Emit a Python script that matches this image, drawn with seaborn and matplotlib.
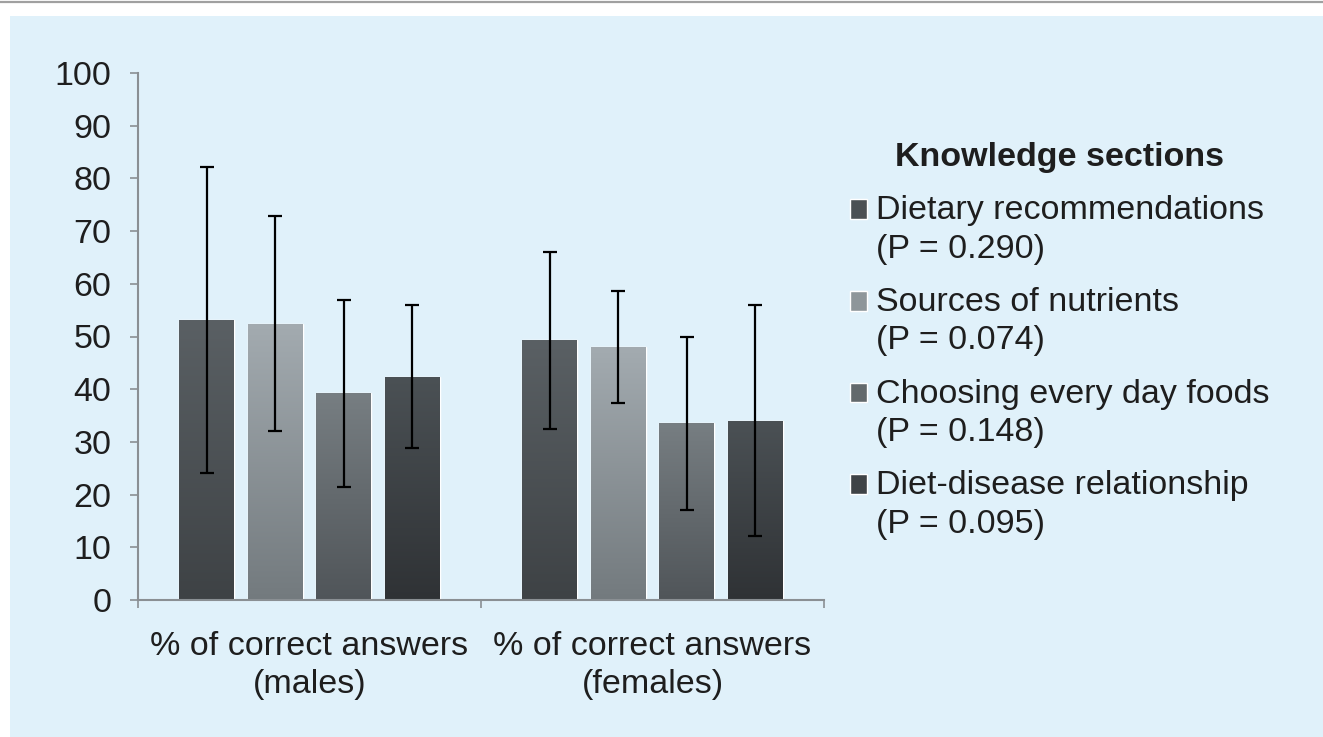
import numpy as np
import pandas as pd
import seaborn as sns
import matplotlib.pyplot as plt
from matplotlib.colors import LinearSegmentedColormap
from matplotlib.patches import Rectangle
from matplotlib.lines import Line2D

# Data
groups = ["% of correct answers\n(males)", "% of correct answers\n(females)"]
sections = ["Dietary recommendations\n(P = 0.290)",
            "Sources of nutrients\n(P = 0.074)",
            "Choosing every day foods\n(P = 0.148)",
            "Diet-disease relationship\n(P = 0.095)"]
means_males = [53.1, 52.4, 39.2, 42.4]
sd_males = [29.0, 20.4, 17.8, 13.6]
means_females = [49.3, 48.0, 33.5, 34.0]
sd_females = [16.8, 10.7, 16.5, 21.9]
yticks = [0, 10, 20, 30, 40, 50, 60, 70, 80, 90, 100]

# Bar colours (mid, top and bottom of gradient)
mid_colors = ["#4b5053", "#8e969a", "#63696c", "#3f4346"]
top_colors = ["#5a6064", "#a3abb0", "#777e82", "#4b5155"]
bottom_colors = ["#3e4245", "#737a7e", "#505559", "#2f3235"]

text_color = "#1e1e1e"
axis_color = "#8a8f93"
panel_color = "#e0f1fa"
fs = 24.5

sns.set_style("white")
plt.rcParams["font.family"] = ["Liberation Sans", "DejaVu Sans"]

rows = []
for g, means in zip(groups, [means_males, means_females]):
    for s, m in zip(sections, means):
        rows.append({"group": g, "section": s, "value": m})
df = pd.DataFrame(rows)

fig = plt.figure(figsize=(13.23, 7.37), dpi=100, facecolor="white")
# light blue panel and top rule
fig.patches.append(Rectangle((10 / 1323, 0), 1, 1 - 16 / 737, transform=fig.transFigure,
                             facecolor=panel_color, edgecolor="none", zorder=-10))
fig.lines.append(Line2D([0, 1], [1 - 2 / 737, 1 - 2 / 737], transform=fig.transFigure,
                        color="#a0a0a0", lw=1.6))

ax = fig.add_axes([138 / 1323, 1 - 600 / 737, (824 - 138) / 1323, (600 - 73) / 737])
ax.set_facecolor("none")

sns.barplot(data=df, x="group", y="value", hue="section", order=groups,
            hue_order=sections, palette=mid_colors, width=0.8, gap=0.2,
            errorbar=None, saturation=1, ax=ax)

# gradient fill on each bar + error bars
sds = [sd_males, sd_females]
bar_containers = list(ax.containers)
for i, container in enumerate(bar_containers):
    cmap = LinearSegmentedColormap.from_list("grad%d" % i, [bottom_colors[i], top_colors[i]])
    xs, ys, es = [], [], []
    for j, bar in enumerate(container):
        x0, w, h = bar.get_x(), bar.get_width(), bar.get_height()
        im = ax.imshow(np.linspace(0, 1, 256).reshape(-1, 1), cmap=cmap,
                       extent=[x0, x0 + w, 0, h], origin="lower", aspect="auto",
                       zorder=bar.get_zorder() + 0.1)
        im.set_clip_path(bar)
        xs.append(x0 + w / 2)
        ys.append(h)
        es.append(sds[j][i])
    ax.errorbar(xs, ys, yerr=es, fmt="none", ecolor="black", elinewidth=1.6,
                capsize=5, capthick=1.6, zorder=5)

ax.set_xlim(-0.5, 1.5)
ax.set_ylim(0, 100)
ax.set_yticks(yticks)
ax.set_xlabel("")
ax.set_ylabel("")

sns.despine(ax=ax)
for side in ["left", "bottom"]:
    ax.spines[side].set_color(axis_color)
    ax.spines[side].set_linewidth(1.5)

ax.tick_params(axis="y", direction="out", length=6, width=1.2, color=axis_color,
               pad=13, labelsize=fs, labelcolor=text_color, left=True)
ax.tick_params(axis="x", which="major", length=0, pad=22, labelsize=fs,
               labelcolor=text_color)
ax.set_xticks([-0.5, 0.5, 1.5], minor=True)
ax.tick_params(axis="x", which="minor", direction="out", length=6, width=1.2,
               color=axis_color, bottom=True)
for t in ax.get_xticklabels():
    t.set_linespacing(1.3)

handles, labels = ax.get_legend_handles_labels()
leg = ax.legend(handles, labels, title="Knowledge sections", loc="upper left",
                bbox_to_anchor=(850 / 1323, 1 - 142 / 737), bbox_transform=fig.transFigure,
                frameon=False, fontsize=fs, title_fontsize=fs,
                handlelength=0.5, handleheight=0.5, handletextpad=0.25,
                labelspacing=0.66, borderpad=0, borderaxespad=0)
leg.get_title().set_fontweight("bold")
leg.get_title().set_color(text_color)
for t in leg.get_texts():
    t.set_color(text_color)
    t.set_linespacing(1.3)
# put the square next to the first line of each label
for h in leg.legend_handles:
    h.set_y(h.get_y() + 15)

fig.savefig("out.png", dpi=100, facecolor="white")
